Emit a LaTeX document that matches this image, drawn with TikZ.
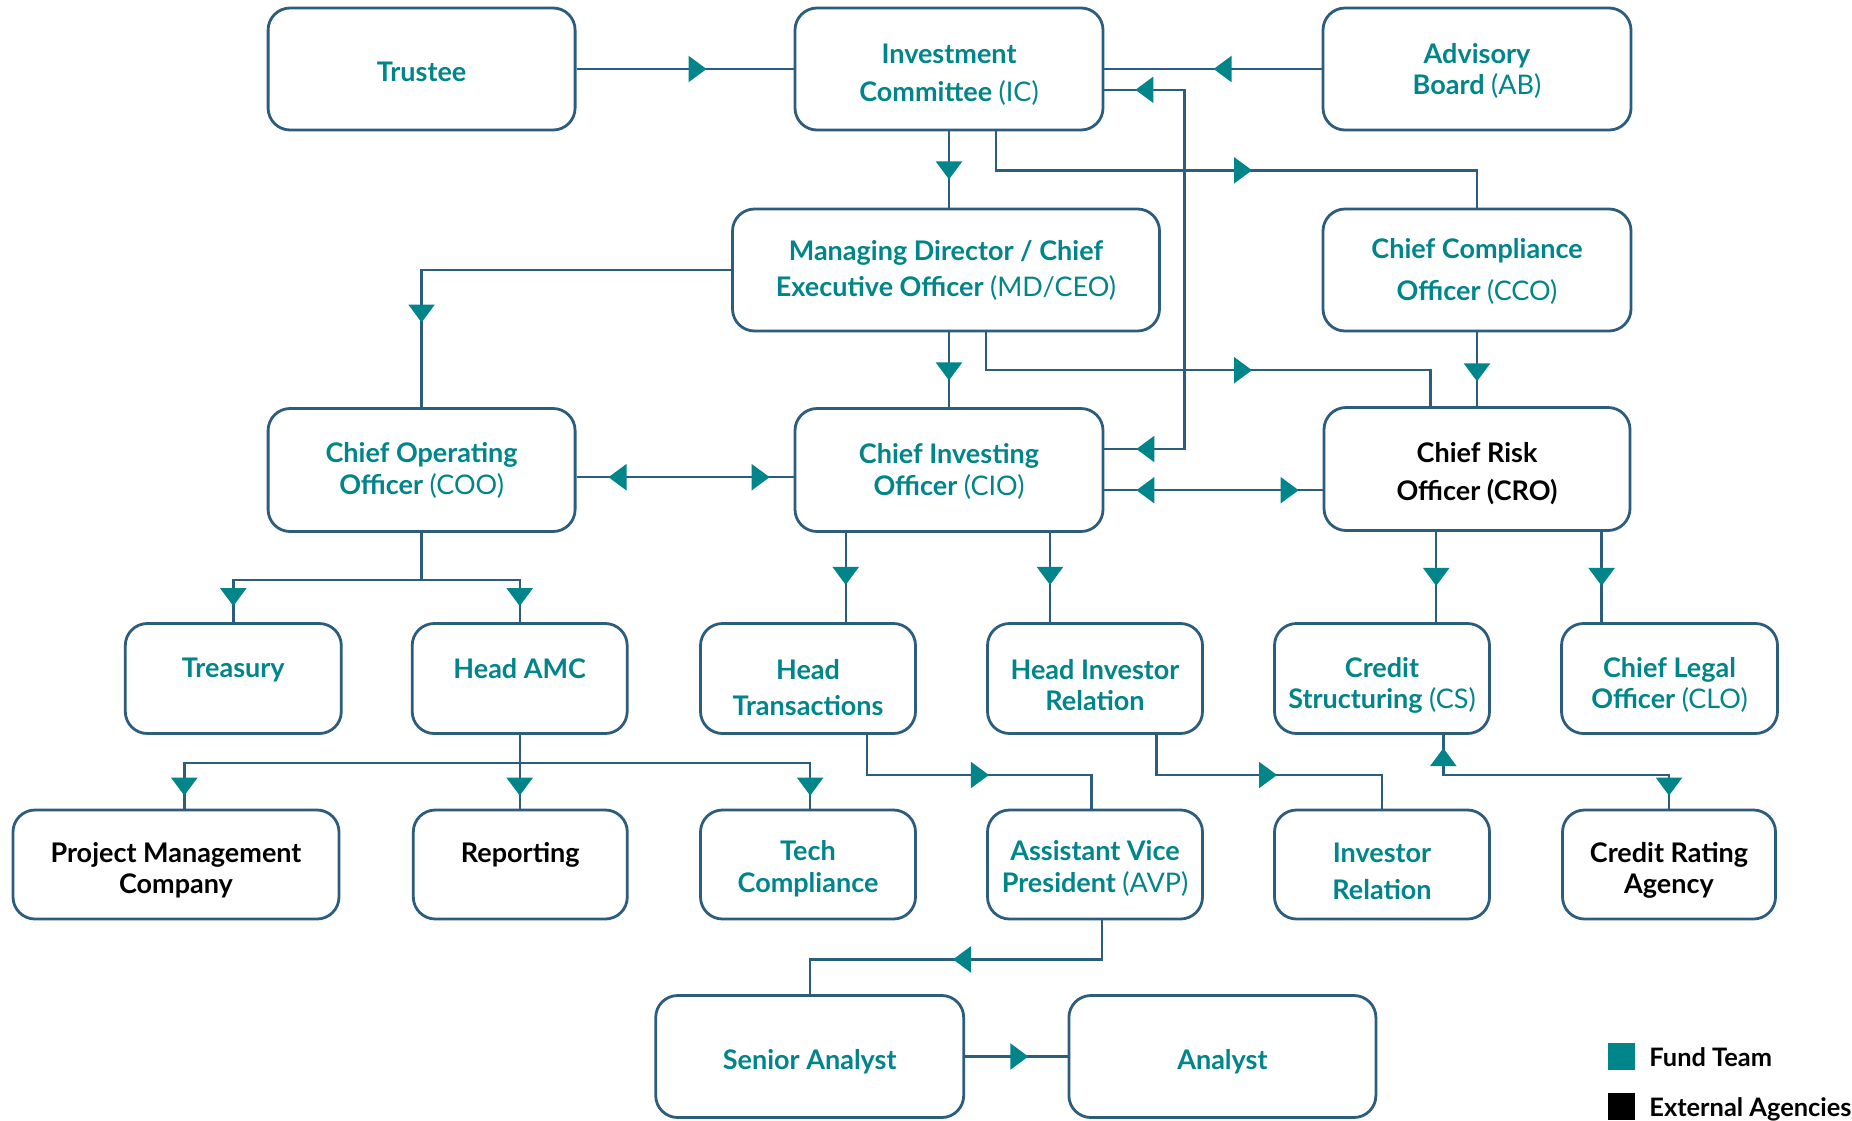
\documentclass[tikz,border=0pt]{standalone}
\usepackage{fontspec}
\setmainfont{Lato}
\usetikzlibrary{arrows.meta,decorations.markings}
\definecolor{fundC}{RGB}{0,133,138}
\definecolor{lineC}{RGB}{45,93,126}
\tikzset{
  box/.style={draw=lineC, line width=1.4pt, rounded corners=11pt, fill=white, inner sep=0pt},
  lbl/.style={text=fundC, font=\bfseries\fontsize{13.5}{#1}\selectfont, align=center, inner sep=0pt},
  lbl/.default=16pt,
  xlbl/.style={lbl=#1, text=black},
  xlbl/.default=16pt,
  conn/.style={draw=lineC, line width=1.2pt},
  tipA/.tip={Triangle[width=13pt,length=9pt,color=fundC]},
  fwd/.style={postaction={decorate, decoration={markings, mark=at position #1 with {\arrow{tipA}}}}},
  rev/.style={postaction={decorate, decoration={markings, mark=at position #1 with {\arrowreversed{tipA}}}}},
}
\newcommand\mkbox[5]{\node[box, minimum width=#4*0.5pt, minimum height=#5*0.5pt] (#1) at (#2,#3) {};}
\newcommand\acr[1]{{\mdseries #1}}
\begin{document}
\begin{tikzpicture}[x=0.5pt,y=-0.5pt]
\fill[white] (0,0) rectangle (1852,1120);
\useasboundingbox (0,0) rectangle (1852,1120);

% boxes
\mkbox{tru}{421.6}{69}{307}{122}
\mkbox{ic}{949}{69}{308}{122}
\mkbox{ab}{1477}{69}{308}{122}
\mkbox{md}{946}{270}{427}{122}
\mkbox{cco}{1477}{270}{308}{122}
\mkbox{coo}{421.6}{470}{307}{123}
\mkbox{cio}{949}{470}{308}{123}
\mkbox{cro}{1477}{469}{306}{123}
\mkbox{tre}{233.3}{678.5}{216}{110}
\mkbox{hamc}{519.7}{678.5}{215}{110}
\mkbox{ht}{808}{678.5}{215}{110}
\mkbox{hir}{1095}{678.5}{215}{110}
\mkbox{cs}{1382}{678.5}{215}{110}
\mkbox{clo}{1669.5}{678.5}{216}{110}
\mkbox{pmc}{176}{864.5}{326}{109}
\mkbox{rep}{520.3}{864.5}{214}{109}
\mkbox{tc}{808}{864.5}{215}{109}
\mkbox{avp}{1095}{864.5}{215}{109}
\mkbox{ir}{1382}{864.5}{215}{109}
\mkbox{cra}{1669}{864.5}{213}{109}
\mkbox{sa}{809.7}{1056.5}{308}{122}
\mkbox{an}{1222.4}{1056.5}{307}{122}

% labels
\node[lbl] (tru-t) at (421.6,72) {Trustee};
\node[lbl=19pt] (ic-t) at (949,74.4) {Investment\\Committee \acr{(IC)}};
\node[lbl=15.5pt] (ab-t) at (1477,70.9) {Advisory\\Board \acr{(AB)}};
\node[lbl=17.7pt] (md-t) at (946,270.4) {Managing Director / Chief\\Executive Officer \acr{(MD/CEO)}};
\node[lbl=21pt] (cco-t) at (1477,271.4) {Chief Compliance\\Officer \acr{(CCO)}};
\node[lbl=16pt] (coo-t) at (421.6,470.4) {Chief Operating\\Officer \acr{(COO)}};
\node[lbl=16pt] (cio-t) at (949,471.9) {Chief Investing\\Officer \acr{(CIO)}};
\node[xlbl=19pt] (cro-t) at (1477,473.4) {Chief Risk\\Officer (CRO)};
\node[lbl] (tre-t) at (233.3,669.7) {Treasury};
\node[lbl] (hamc-t) at (519.7,668.5) {Head AMC};
\node[lbl=17.7pt] (ht-t) at (808,687.4) {Head\\Transactions};
\node[lbl=15.4pt] (hir-t) at (1095,685.1) {Head Investor\\Relation};
\node[lbl=15.4pt] (cs-t) at (1382,685.1) {Credit\\Structuring \acr{(CS)}};
\node[lbl=15.4pt] (clo-t) at (1669.5,685.1) {Chief Legal\\Officer \acr{(CLO)}};
\node[xlbl=15.4pt] (pmc-t) at (176,870.4) {Project Management\\Company};
\node[xlbl] (rep-t) at (520.3,855.2) {Reporting};
\node[lbl=16pt] (tc-t) at (808,868.7) {Tech\\Compliance};
\node[lbl=16pt] (avp-t) at (1095,868.7) {Assistant Vice\\President \acr{(AVP)}};
\node[lbl=18.3pt] (ir-t) at (1382,871.1) {Investor\\Relation};
\node[xlbl=15.4pt] (cra-t) at (1669,870.4) {Credit Rating\\Agency};
\node[lbl] (sa-t) at (809.7,1061.9) {Senior Analyst};
\node[lbl] (an-t) at (1222.4,1061.9) {Analyst};

% connectors
\draw[conn, fwd=65pt] (tru.east) -- (ic.west);
\draw[conn, fwd=54pt] (ab.west) -- (ab.west -| ic.east);
\coordinate (iccio) at (1184.6,269);
\draw[conn, rev=15.5pt, fwd=-16pt] ([yshift=-10.4pt]ic.east) -| (iccio) |- ([yshift=10.5pt]cio.east);
\draw[conn, fwd=24pt] (ic.south) -- (ic.south |- md.north);
\draw[conn, fwd=147.6pt] ([xshift=23.35pt]ic.south) -- ++(0,38.9) -| (cco.north);
\draw[conn, fwd=181pt] (md.west) -| (coo.north);
\draw[conn, fwd=24pt] (cio.north |- md.south) -- (cio.north);
\draw[conn, fwd=151.8pt] ([xshift=20.1pt]md.south) -- ++(0,37.8) -| ([xshift=-23.35pt]cro.north);
\draw[conn, fwd=24.5pt] (cco.south) -- (cro.north);
\draw[conn, rev=16pt, fwd=-12pt] ([yshift=-3.6pt]coo.east) -- ([yshift=-3.6pt]coo.east -| cio.west);
\draw[conn, rev=16pt, fwd=-12pt] ([yshift=-10.1pt]cio.east) -- ([yshift=-10.1pt]cio.east -| cro.west);
\draw[conn, fwd=-8pt] (coo.south) -- ++(0,47.2) -| (tre.north);
\draw[conn, fwd=-8pt] (coo.south) -- ++(0,47.2) -| (hamc.north);
\draw[conn, fwd=26pt] ([xshift=-51.65pt]cio.south) -- ([xshift=-51.65pt]cio.south |- ht.north);
\draw[conn, fwd=26pt] ([xshift=50.5pt]cio.south) -- ([xshift=50.5pt]cio.south |- hir.north);
\draw[conn, fwd=27pt] ([xshift=-20.4pt]cro.south) -- ([xshift=-20.4pt]cro.south |- cs.north);
\draw[conn, fwd=27pt] ([xshift=62.3pt]cro.south) -- ([xshift=62.3pt]cro.south |- clo.north);
\draw[conn, fwd=-6.5pt] (hamc.south) -- ++(0,28.3) -| ([xshift=4.15pt]pmc.north);
\draw[conn, fwd=-6.5pt] (hamc.south) -- (hamc.south |- rep.north);
\draw[conn, fwd=-6.5pt] (hamc.south) -- ++(0,28.3) -| ([xshift=1.1pt]tc.north);
\draw[conn, fwd=81pt] ([xshift=29.5pt]ht.south) -- ++(0,40.1) -| ([xshift=-1.85pt]avp.north);
\draw[conn, fwd=80.4pt] ([xshift=30.65pt]hir.south) -- ++(0,40.1) -| (ir.north);
\draw[conn, rev=6.6pt, fwd=-6.5pt] ([xshift=30.65pt]cs.south) -- ++(0,40.1) -| (cra.north);
\draw[conn, fwd=94pt] ([xshift=3.5pt]avp.south) -- ++(0,39) -| (sa.north);
\draw[conn, fwd=31.6pt] (sa.east) -- (an.west);

% legend
\node[fill=fundC, minimum size=13.5pt, inner sep=0pt] (leg1) at (1621.5,1056.5) {};
\node[fill=black, minimum size=13.5pt, inner sep=0pt] (leg2) at (1621.5,1106.5) {};
\node[anchor=base west, inner sep=0pt, font=\bfseries\fontsize{12.7}{15}\selectfont] (leg1-t) at (1649,1066.7) {Fund Team};
\node[anchor=base west, inner sep=0pt, font=\bfseries\fontsize{12.7}{15}\selectfont] (leg2-t) at (1649,1116) {External Agencies};
\end{tikzpicture}
\end{document}
